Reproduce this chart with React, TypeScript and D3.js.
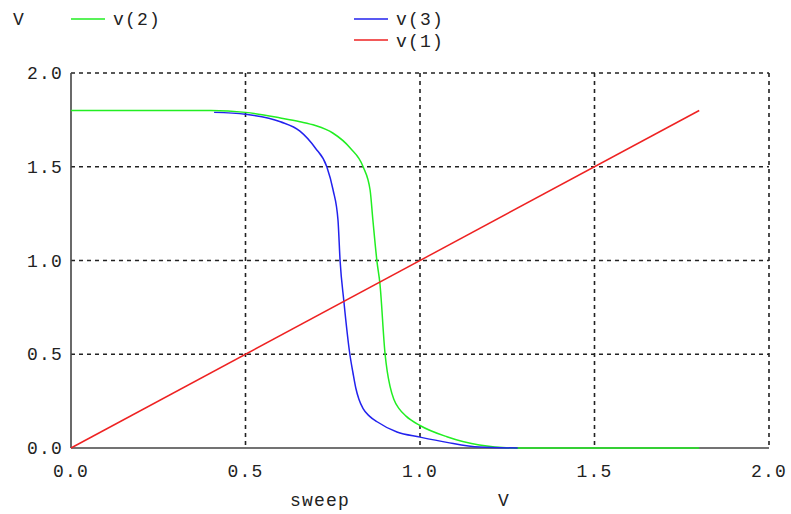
import React from 'react';
import * as d3 from 'd3';

// sweep (V) -> node voltages (V)
const v2Sweep = [0, 0.4, 0.5, 0.6, 0.656, 0.7, 0.75, 0.8, 0.837, 0.857, 0.865, 0.877, 0.885, 0.9, 0.906, 0.914, 0.925, 0.94, 0.96, 1.0, 1.077, 1.17, 1.28, 1.8];
const v2Values = [1.8, 1.8, 1.79, 1.76, 1.74, 1.72, 1.68, 1.6, 1.5, 1.376, 1.216, 0.99, 0.88, 0.5, 0.41, 0.33, 0.26, 0.21, 0.17, 0.12, 0.06, 0.016, 0, 0];

const v3Sweep = [0.41, 0.5, 0.6, 0.656, 0.7, 0.733, 0.751, 0.765, 0.771, 0.782, 0.799, 0.808, 0.816, 0.825, 0.837, 0.855, 0.877, 0.934, 1.0, 1.077, 1.17, 1.28];
const v3Values = [1.79, 1.78, 1.74, 1.69, 1.6, 1.5, 1.376, 1.216, 1.0, 0.78, 0.5, 0.4, 0.32, 0.26, 0.21, 0.17, 0.14, 0.085, 0.058, 0.03, 0.005, 0];

const v1Sweep = [0, 1.8];
const v1Values = [0, 1.8];

const xTicks = [0, 0.5, 1.0, 1.5, 2.0];
const yTicks = [0, 0.5, 1.0, 1.5, 2.0];

const FONT = '"Liberation Mono", "DejaVu Sans Mono", monospace';

const App = () => {
  const margin = { top: 73, right: 22, bottom: 66, left: 71 };
  const W = 791, H = 514;
  const width = W - margin.left - margin.right;
  const height = H - margin.top - margin.bottom;

  const x = d3.scaleLinear().domain([0, 2]).range([0, width]);
  const y = d3.scaleLinear().domain([0, 2]).range([height, 0]);

  const line = d3.line<[number, number]>()
    .x(d => x(d[0]))
    .y(d => y(d[1]))
    .curve(d3.curveMonotoneX);

  const zip = (a: number[], b: number[]) => a.map((v, i) => [v, b[i]] as [number, number]);

  const series = [
    { name: 'v(2)', color: '#22ee22', pts: zip(v2Sweep, v2Values) },
    { name: 'v(3)', color: '#2222ee', pts: zip(v3Sweep, v3Values) },
    { name: 'v(1)', color: '#ee2222', pts: zip(v1Sweep, v1Values) },
  ];

  const textStyle = { fontFamily: FONT, fontSize: 18, letterSpacing: 1.2, fill: '#222' };

  return (
    <svg width={W} height={H} style={{ position: 'absolute', left: 0, top: 0, background: '#fff' }}>
      {/* legend */}
      <text x={13} y={25} style={textStyle}>V</text>
      <line x1={71} x2={105} y1={19} y2={19} stroke="#22ee22" strokeWidth={1.5} />
      <text x={113} y={25} style={textStyle}>v(2)</text>
      <line x1={354} x2={388} y1={19} y2={19} stroke="#2222ee" strokeWidth={1.5} />
      <text x={396} y={25} style={textStyle}>v(3)</text>
      <line x1={354} x2={388} y1={40} y2={40} stroke="#ee2222" strokeWidth={1.5} />
      <text x={396} y={47} style={textStyle}>v(1)</text>

      <g transform={`translate(${margin.left},${margin.top})`}>
        {/* grid */}
        {xTicks.slice(1).map(t => (
          <line key={'gx' + t} x1={x(t)} x2={x(t)} y1={0} y2={height}
            stroke="#222" strokeWidth={1.6} strokeDasharray="4,4" />
        ))}
        {yTicks.slice(1).map(t => (
          <line key={'gy' + t} x1={0} x2={width} y1={y(t)} y2={y(t)}
            stroke="#222" strokeWidth={1.6} strokeDasharray="4,4" />
        ))}

        {/* axes */}
        <line x1={0} x2={0} y1={0} y2={height} stroke="#444" strokeWidth={1.6} />
        <line x1={0} x2={width} y1={height} y2={height} stroke="#444" strokeWidth={1.6} />

        {/* tick labels */}
        {yTicks.map(t => (
          <text key={'ty' + t} x={-8} y={y(t) + 6} textAnchor="end" style={textStyle}>
            {t.toFixed(1)}
          </text>
        ))}
        {xTicks.map(t => (
          <text key={'tx' + t} x={x(t)} y={height + 29} textAnchor="middle" style={textStyle}>
            {t.toFixed(1)}
          </text>
        ))}

        {/* curves */}
        {series.map(s => (
          <path key={s.name} d={line(s.pts) || ''} fill="none" stroke={s.color} strokeWidth={1.5} />
        ))}
      </g>

      {/* x axis title */}
      <text x={290} y={506} style={textStyle}>sweep</text>
      <text x={498} y={506} style={textStyle}>V</text>
    </svg>
  );
};

export default App;
